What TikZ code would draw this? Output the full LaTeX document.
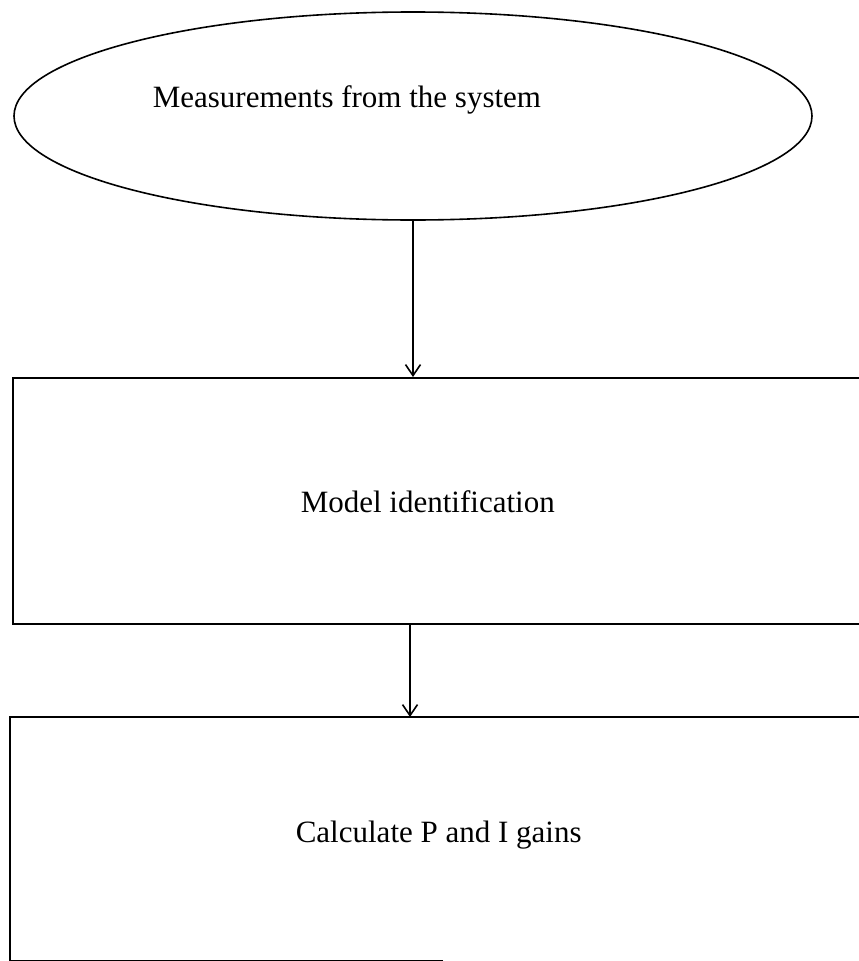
\documentclass[tikz,border=0pt]{standalone}
\usepackage{fontspec}
\setmainfont{Liberation Serif}
\usetikzlibrary{arrows.meta,positioning,shapes.geometric}

\begin{document}
\begin{tikzpicture}[x=1pt,y=-1pt,line width=1.6pt,
    flowarrow/.style={-{Straight Barb[length=11pt,width=15pt,line width=1.6pt]}},
    boxtext/.style={font=\fontsize{31}{37}\selectfont,anchor=base west,inner sep=0pt}]
    \useasboundingbox (0,0) rectangle (859,961);
    \clip (0,0) rectangle (859,961);
    \node[draw,ellipse,minimum width=798pt,minimum height=208pt,inner sep=0pt] (meas) at (413,116) {};
    \node[boxtext] (meastext) at (152,107) {Measurements from the system};

    \node[draw,rectangle,minimum width=900pt,minimum height=246pt,anchor=north west,inner sep=0pt] (ident) at (12,377) {};
    \node[boxtext] (identtext) at (300,512) {Model identification};

    \node[rectangle,minimum width=900pt,minimum height=242pt,anchor=north west,inner sep=0pt] (calc) at (10,717) {};
    \draw ([xshift=433pt]calc.south west) -- (calc.south west) -- (calc.north west) -- (calc.north east);
    \node[boxtext] (calctext) at (295,842) {Calculate P and I gains};

    \coordinate (col2) at (410,0);
    \draw[flowarrow] (meas.south) -- (meas.south |- ident.north);
    \draw[flowarrow] (col2 |- ident.south) -- (col2 |- calc.north);
\end{tikzpicture}
\end{document}
